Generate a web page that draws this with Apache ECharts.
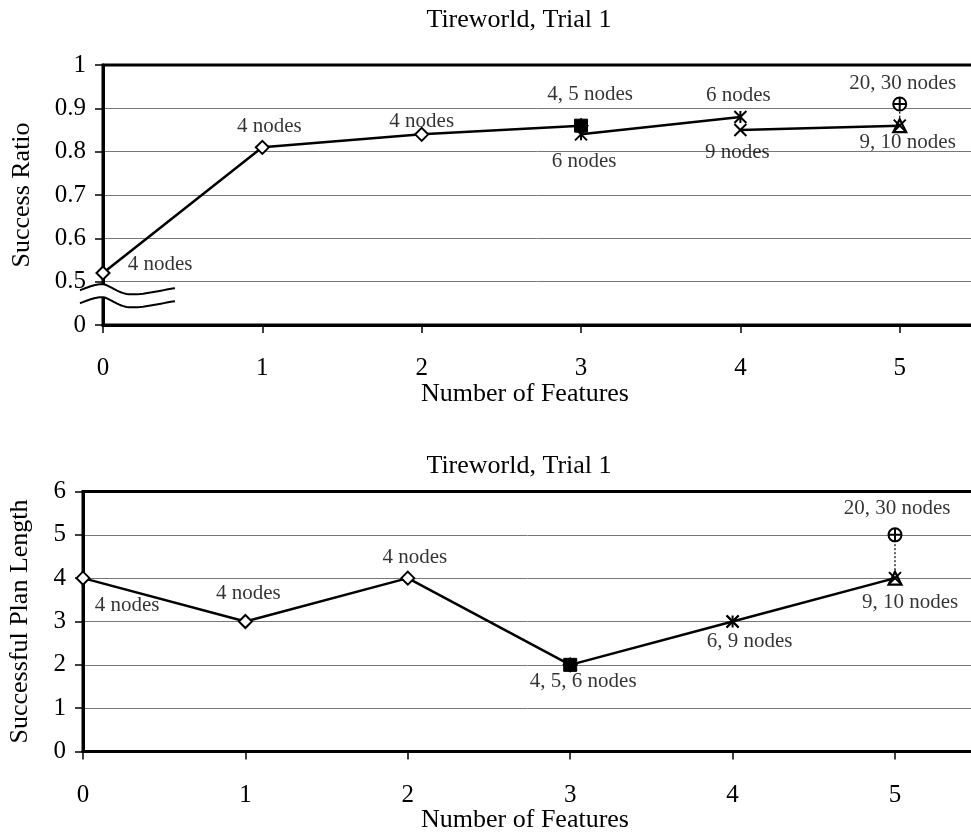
<!DOCTYPE html>
<html><head><meta charset="utf-8">
<script src="https://cdn.jsdelivr.net/npm/echarts@6/dist/echarts.min.js"></script>
<style>html,body{margin:0;padding:0;background:#fff}#c{width:971px;height:839px}</style>
</head><body><div id="c"></div>
<script>
// ================= DATA =================
const chartTitle = 'Tireworld, Trial 1';
const xAxisName = 'Number of Features';
const featureTicks = [0, 1, 2, 3, 4, 5];
const xTickLabels = ['0', '1', '2', '3', '4', '5'];
const topYTickLabels = ['0', '0.5', '0.6', '0.7', '0.8', '0.9', '1'];
const bottomYTickLabels = ['0', '1', '2', '3', '4', '5', '6'];

// Top chart: Success Ratio (axis broken between 0 and 0.5)
const ratio4Nodes = [[0, 0.52], [1, 0.81], [2, 0.84], [3, 0.86]];
const ratio5Nodes = [[3, 0.86]];
const ratio6Nodes = [[3, 0.84], [4, 0.88]];
const ratio9Nodes = [[4, 0.85], [5, 0.86]];
const ratio10Nodes = [[5, 0.86]];
const ratio20_30Nodes = [[5, 0.91]];
const ratioLabelText = ['4 nodes', '4 nodes', '4 nodes', '4, 5 nodes', '6 nodes', '6 nodes', '9 nodes', '20, 30 nodes', '9, 10 nodes'];
const ratioLabelAt = [[0, 0.52], [1, 0.81], [2, 0.84], [3, 0.86], [3, 0.84], [4, 0.88], [4, 0.85], [5, 0.91], [5, 0.86]];

// Bottom chart: Successful Plan Length
const len4Nodes = [[0, 4], [1, 3], [2, 4], [3, 2]];
const len5Nodes = [[3, 2]];
const len6Nodes = [[3, 2], [4, 3]];
const len9Nodes = [[4, 3], [5, 4]];
const len10Nodes = [[5, 4]];
const len20_30Nodes = [[5, 5]];
const lenLabelText = ['4 nodes', '4 nodes', '4 nodes', '4, 5, 6 nodes', '6, 9 nodes', '20, 30 nodes', '9, 10 nodes'];
const lenLabelAt = [[0, 4], [1, 3], [2, 4], [3, 2], [4, 3], [5, 5], [5, 4]];

// ================= STYLE =================
const FONT = "'Liberation Serif','Times New Roman',serif";
const ratioLabelOffset = [[57, -9], [7, -21], [0, -13], [9, -31], [3, 27], [-2, -22], [-3, 22], [3, -21], [8, 17]];
const lenLabelOffset = [[44, 27], [3, -28], [7, -21], [13, 17], [17, 20], [2, -26], [15, 24]];
const BREAK_VALUE = 0.478;

const SYM_ASTERISK = 'path://M0,0L10,10M10,0L0,10M5,0L5,10';
const SYM_X = 'path://M0,0L10,10M10,0L0,10';
const SYM_PLUS = 'path://M5,0L5,10M0,5L10,5';

function lineSer(g, data, symbol, size, fill) {
  return {
    type: 'line', xAxisIndex: g, yAxisIndex: g, data: data,
    symbol: symbol, symbolSize: size, showAllSymbol: true,
    lineStyle: { color: '#000', width: 2.5 },
    itemStyle: { color: fill, borderColor: '#000', borderWidth: 2 },
    emphasis: { disabled: true }, z: 3
  };
}
function markSer(g, data, symbol, size, fill, bw, z) {
  return {
    type: 'scatter', xAxisIndex: g, yAxisIndex: g, data: data,
    symbol: symbol, symbolSize: size,
    itemStyle: { color: fill, borderColor: '#000', borderWidth: bw, opacity: 1 },
    emphasis: { disabled: true }, z: z || 4
  };
}
function connector(g, from, to) {
  return {
    type: 'line', xAxisIndex: g, yAxisIndex: g, data: [from[0], to[0]],
    symbol: 'none', lineStyle: { color: '#000', width: 1.2, type: [2, 2] }, z: 2
  };
}
function labelSer(g, at, texts, offsets) {
  return {
    type: 'scatter', xAxisIndex: g, yAxisIndex: g, symbolSize: 0, z: 6,
    data: at.map((p, i) => ({
      value: p,
      label: { show: true, position: 'inside', offset: offsets[i], formatter: texts[i],
        fontFamily: FONT, fontSize: 21, color: '#000', align: 'center', verticalAlign: 'middle' }
    })),
    emphasis: { disabled: true }, silent: true
  };
}
function xAxisCfg(g) {
  return {
    gridIndex: g, type: 'value', min: 0, max: 5.5, interval: 1,
    axisLine: { show: true, onZero: false, lineStyle: { color: '#000', width: 3 } },
    axisTick: { show: true, length: 8, lineStyle: { color: '#000', width: 1.5 } },
    axisLabel: { fontFamily: FONT, fontSize: 25, color: '#000', margin: 31, hideOverlap: false,
      formatter: v => { const i = featureTicks.indexOf(v); return i >= 0 ? xTickLabels[i] : ''; } },
    splitLine: { show: false }
  };
}
function yAxisCfg(g, min, max, interval, labels, name, nameGap) {
  return {
    gridIndex: g, type: 'value', min: min, max: max, interval: interval,
    axisLine: { show: true, onZero: false, lineStyle: { color: '#000', width: 3 } },
    axisTick: { show: true, length: 8, lineStyle: { color: '#000', width: 1.5 } },
    axisLabel: { fontFamily: FONT, fontSize: 25, color: '#000', margin: 17,
      formatter: (v, i) => labels[i] },
    splitLine: { show: true, showMinLine: false, showMaxLine: false, lineStyle: { color: '#777', width: 1 } },
    name: name, nameLocation: 'middle', nameRotate: 90, nameGap: nameGap,
    nameTextStyle: { fontFamily: FONT, fontSize: 26, color: '#000' }
  };
}

const chart = echarts.init(document.getElementById('c'), null, { renderer: 'canvas' });
const gridStyle = { show: true, borderColor: '#000', borderWidth: 3, backgroundColor: 'transparent',
  containLabel: false, outerBoundsMode: 'none' };

const series = [];
// top chart
series.push(connector(0, ratio10Nodes, ratio20_30Nodes));
series.push(lineSer(0, ratio9Nodes, SYM_X, 12, 'none'));
series.push(lineSer(0, ratio6Nodes, SYM_ASTERISK, 12, 'none'));
series.push(lineSer(0, ratio4Nodes, 'diamond', 13, '#fff'));
series.push(markSer(0, ratio5Nodes, 'rect', 13, '#000', 1));
series.push(markSer(0, ratio10Nodes, 'triangle', 13, 'none', 2.2));
series.push(markSer(0, ratio20_30Nodes, 'circle', 13, '#fff', 2));
series.push(markSer(0, ratio20_30Nodes, SYM_PLUS, 12, 'none', 2, 5));
series.push(labelSer(0, ratioLabelAt, ratioLabelText, ratioLabelOffset));
// bottom chart
series.push(connector(1, len10Nodes, len20_30Nodes));
series.push(lineSer(1, len9Nodes, SYM_X, 12, 'none'));
series.push(lineSer(1, len6Nodes, SYM_ASTERISK, 12, 'none'));
series.push(lineSer(1, len4Nodes, 'diamond', 13, '#fff'));
series.push(markSer(1, len5Nodes, 'rect', 13, '#000', 1));
series.push(markSer(1, len10Nodes, 'triangle', 13, 'none', 2.2));
series.push(markSer(1, len20_30Nodes, 'circle', 13, '#fff', 2));
series.push(markSer(1, len20_30Nodes, SYM_PLUS, 12, 'none', 2, 5));
series.push(labelSer(1, lenLabelAt, lenLabelText, lenLabelOffset));

function textG(id, text, x, y, size) {
  return { id: id, type: 'text', x: x, y: y, z: 10,
    style: { text: text, fontFamily: FONT, fontSize: size, fill: '#000', align: 'center', verticalAlign: 'middle' } };
}

chart.setOption({
  animation: false,
  backgroundColor: '#fff',
  grid: [
    Object.assign({ left: 103, top: 65, right: -8.4, height: 260 }, gridStyle),
    Object.assign({ left: 83, top: 491.5, right: -5.2, height: 260 }, gridStyle)
  ],
  xAxis: [xAxisCfg(0), xAxisCfg(1)],
  yAxis: [
    yAxisCfg(0, 0.4, 1, 0.1, topYTickLabels, 'Success Ratio', 68),
    yAxisCfg(1, 0, 6, 1, bottomYTickLabels, 'Successful Plan Length', 50)
  ],
  series: series,
  graphic: [
    textG('t1', chartTitle, 519, 20, 26),
    textG('t2', chartTitle, 519, 466, 26),
    textG('n1', xAxisName, 525, 394, 26),
    textG('n2', xAxisName, 525, 820, 26)
  ]
});

// axis break symbol on the top chart's y axis (decoration anchored to the axis)
(function () {
  const p = chart.convertToPixel({ gridIndex: 0 }, [0, BREAK_VALUE]);
  const px = p[0], py = p[1];
  const start = [-23, -1];
  const segs = [[[-15, -4], [-8, -7], [-1, -7]], [[6, -7], [14, 2], [26, 3]], [[40, 4], [58, -1], [72, -3]]];
  const gap = 13;
  function sample(dy) {
    const pts = [];
    let p0 = start;
    pts.push([px + p0[0], py + p0[1] + dy]);
    segs.forEach(s => {
      const c1 = s[0], c2 = s[1], e = s[2];
      for (let k = 1; k <= 16; k++) {
        const t = k / 16, u = 1 - t;
        const x = u * u * u * p0[0] + 3 * u * u * t * c1[0] + 3 * u * t * t * c2[0] + t * t * t * e[0];
        const y = u * u * u * p0[1] + 3 * u * u * t * c1[1] + 3 * u * t * t * c2[1] + t * t * t * e[1];
        pts.push([px + x, py + y + dy]);
      }
      p0 = e;
    });
    return pts;
  }
  const upper = sample(0), lower = sample(gap);
  const poly = upper.concat(lower.slice().reverse());
  chart.setOption({
    graphic: [
      { id: 'brkFill', type: 'polygon', z: 20, shape: { points: poly }, style: { fill: '#fff', stroke: '#fff', lineWidth: 0 } },
      { id: 'brkU', type: 'polyline', z: 21, shape: { points: upper }, style: { fill: null, stroke: '#000', lineWidth: 2 } },
      { id: 'brkL', type: 'polyline', z: 21, shape: { points: lower }, style: { fill: null, stroke: '#000', lineWidth: 2 } }
    ]
  });
})();
</script>
</body></html>
